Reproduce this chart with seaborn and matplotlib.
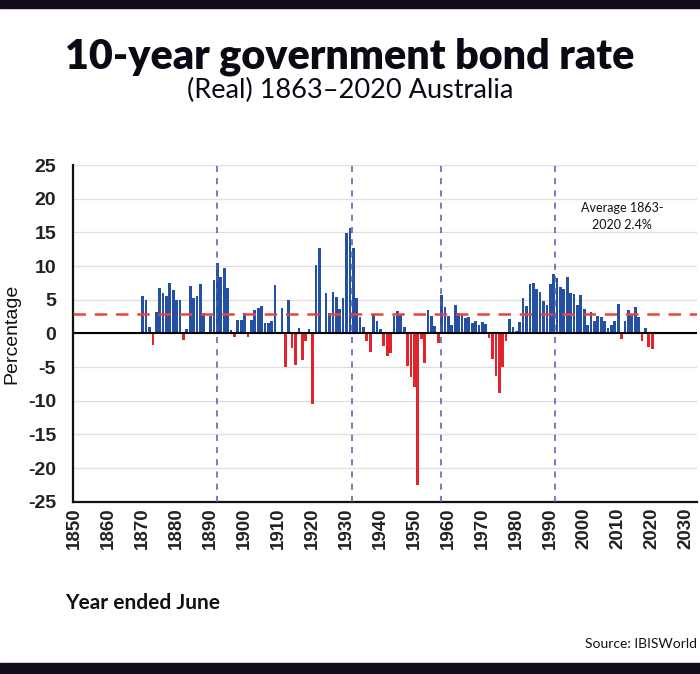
import numpy as np
import pandas as pd
import matplotlib
matplotlib.use("Agg")
import matplotlib.pyplot as plt
from matplotlib.patches import Rectangle
import seaborn as sns

# ---------------- data ----------------
years = list(range(1870, 2021))
rates = [
    5.6, 5.0, 1.0, -1.8, 3.2, 6.7, 6.0, 5.6, 7.5, 6.4,        # 1870-1879
    4.9, 4.9, -1.0, 0.7, 7.0, 5.2, 5.6, 7.3, 3.0, 0.2,        # 1880-1889
    2.6, 7.9, 10.4, 8.3, 9.7, 6.8, 0.5, -0.5, 2.0, 2.0,       # 1890-1899
    3.0, -0.6, 2.0, 3.5, 3.7, 4.0, 1.5, 1.6, 1.8, 7.2,        # 1900-1909
    0.25, 3.7, -5.0, 4.9, -2.2, -4.7, 0.8, -4.0, -1.1, 0.6,   # 1910-1919
    -10.5, 10.1, 12.7, 0.25, 6.0, 3.0, 6.2, 5.4, 3.6, 5.3,    # 1920-1929
    14.9, 15.7, 12.7, 5.2, 2.4, 1.0, -1.2, -2.7, 2.7, 1.8,    # 1930-1939
    0.6, -1.9, -3.3, -2.9, 2.6, 3.3, 2.7, 0.9, -4.8, -6.5,    # 1940-1949
    -7.9, -22.5, -0.8, -4.4, 3.5, 2.6, 1.1, -1.5, 5.7, 3.9,   # 1950-1959
    2.6, 1.2, 4.2, 3.0, 2.8, 2.3, 2.5, 1.5, 1.8, 1.2,         # 1960-1969
    1.7, 1.4, -0.7, -3.8, -6.4, -8.8, -5.0, -1.2, 2.1, 0.9,   # 1970-1979
    0.3, 1.7, 5.2, 4.1, 7.3, 7.5, 6.6, 6.2, 4.8, 4.2,         # 1980-1989
    7.3, 8.8, 8.2, 6.9, 6.6, 8.4, 6.0, 5.9, 4.2, 5.7,         # 1990-1999
    3.6, 1.2, 3.1, 1.9, 2.6, 2.4, 1.8, 0.8, 1.3, 1.9,         # 2000-2009
    4.4, -0.9, 1.9, 3.5, 2.9, 3.9, 2.5, -1.2, 0.8, -2.1,      # 2010-2019
    -2.3,                                                      # 2020
]
avg_line = 2.9
event_years = [1892.0, 1931.6, 1957.7, 1991.4]
x_ticks = list(range(1850, 2031, 10))
y_ticks = list(range(-25, 26, 5))

title = "10-year government bond rate"
subtitle = "(Real) 1863\u20132020 Australia"
avg_label = "Average 1863-\n2020 2.4%"

# ---------------- style ----------------
sns.set_style("white")
plt.rcParams["font.family"] = ["Lato", "DejaVu Sans"]

W, H = 700, 674
fig = plt.figure(figsize=(W / 100, H / 100), dpi=100)
fig.patch.set_facecolor("white")

def fx(px):
    return px / W

def fy(py):
    return 1 - py / H

ax_l, ax_r, ax_t, ax_b = 72.7, 697.0, 165.0, 501.7
ax = fig.add_axes([fx(ax_l), fy(ax_b), fx(ax_r - ax_l), (ax_b - ax_t) / H])

df = pd.DataFrame({"year": years, "rate": rates})
df["sign"] = np.where(df["rate"] >= 0, "pos", "neg")

sns.barplot(
    data=df, x="year", y="rate", hue="sign",
    palette={"pos": "#2350a3", "neg": "#e3232b"}, saturation=1,
    native_scale=True, dodge=False, width=0.8, linewidth=0,
    legend=False, ax=ax,
)

ax.set_xlim(1849.4, 2033.2)
ax.set_ylim(-25, 25)
ax.set_axisbelow(True)
ax.yaxis.grid(True, color="#dedede", linewidth=0.9)
ax.xaxis.grid(False)

ax.axhline(0, color="black", linewidth=1.5, zorder=4)
ax.axhline(avg_line, color="#e8453c", linewidth=1.8, linestyle=(0, (5, 3.5)), zorder=5)
for ev in event_years:
    ax.axvline(ev, color="#4a5cb0", linewidth=1.1, linestyle=(0, (4, 4)), zorder=5)

ax.set_xticks(x_ticks)
ax.set_yticks(y_ticks)
ax.set_xticklabels([str(t) for t in x_ticks], rotation=90,
                   fontfamily="Liberation Sans", fontweight="bold",
                   fontsize=13.5, color="#222222")
ax.set_yticklabels([str(t) for t in y_ticks],
                   fontfamily="Liberation Sans", fontweight="bold",
                   fontsize=14, color="#222222")
ax.tick_params(axis="x", length=0, pad=4)
ax.tick_params(axis="y", direction="inout", length=8, width=1.5,
               color="#111111", pad=8)

for s in ["top", "right"]:
    ax.spines[s].set_visible(False)
for s in ["left", "bottom"]:
    ax.spines[s].set_color("#111111")
    ax.spines[s].set_linewidth(1.6)

ax.set_xlabel("")
ax.set_ylabel("")

ax.text(2011.1, 17.3, avg_label, ha="center", va="center",
        fontsize=9, color="#111111", linespacing=1.5)

# ---------------- figure texts ----------------
fig.text(fx(11.5), fy(334), "Percentage", rotation=90, ha="center", va="center",
         fontfamily="Liberation Sans", fontsize=14, color="#111111")
fig.text(fx(350), fy(68), title, ha="center", va="baseline",
         fontsize=29.7, fontweight="heavy", color="#0a0a14")
fig.text(fx(350), fy(98), subtitle, ha="center", va="baseline",
         fontsize=19.5, color="#0a0a14")
fig.text(fx(65), fy(609), "Year ended June", ha="left", va="baseline",
         fontsize=15, fontweight="bold", color="#111111")
fig.text(fx(697), fy(648), "Source: IBISWorld", ha="right", va="baseline",
         fontsize=10, color="#111111")

# top / bottom dark bands
fig.patches.append(Rectangle((0, fy(8)), 1, 8 / H, transform=fig.transFigure,
                             color="#120b1d", zorder=0))
fig.patches.append(Rectangle((0, 0), 1, 11 / H, transform=fig.transFigure,
                             color="#120b1d", zorder=0))

fig.savefig("out.png", dpi=100)
